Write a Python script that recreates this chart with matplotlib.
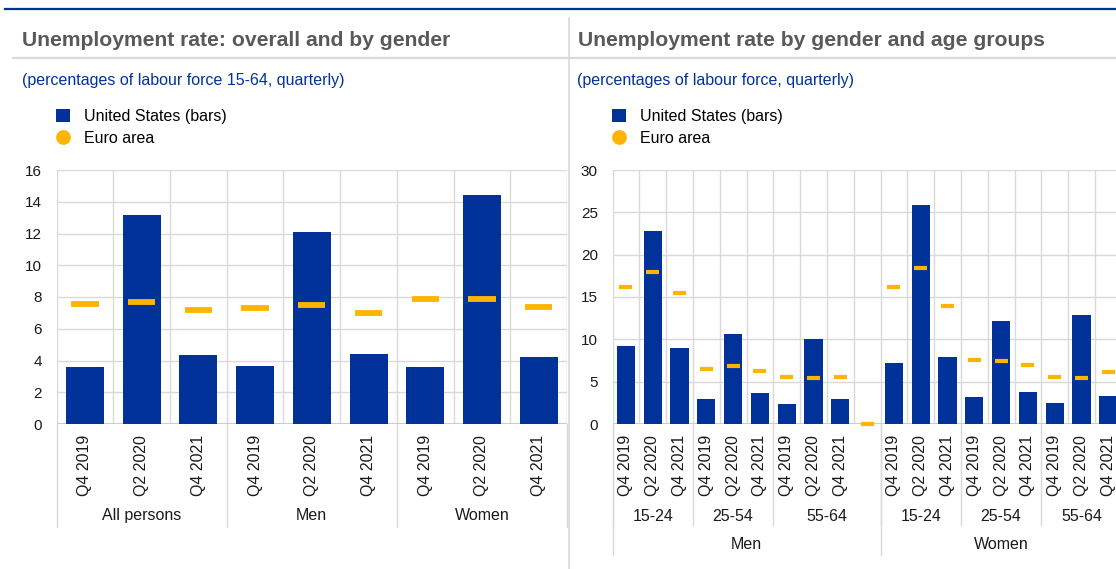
import numpy as np
import matplotlib.pyplot as plt
from matplotlib.patches import Patch
from matplotlib.lines import Line2D

plt.rcParams['font.family'] = ['Liberation Sans', 'DejaVu Sans']

# ---- data -----------------------------------------------------------
quarters = ['Q4 2019', 'Q2 2020', 'Q4 2021']

left_groups = ['All persons', 'Men', 'Women']
us_left = [3.62, 13.16, 4.32, 3.68, 12.08, 4.38, 3.56, 14.42, 4.25]
ea_left = [7.56, 7.66, 7.16, 7.28, 7.47, 6.97, 7.85, 7.85, 7.35]

right_sexes = ['Men', 'Women']
right_ages = ['15-24', '25-54', '55-64']
# one empty slot between men and women
right_labels = quarters * 3 + [''] + quarters * 3
us_right = [9.16, 22.78, 8.92, 3.00, 10.58, 3.71, 2.41, 9.99, 3.00, np.nan,
            7.15, 25.86, 7.86, 3.24, 12.12, 3.83, 2.53, 12.83, 3.36]
ea_right = [16.19, 17.96, 15.48, 6.47, 6.83, 6.24, 5.53, 5.41, 5.53, 0.0,
            16.19, 18.44, 13.94, 7.54, 7.42, 6.95, 5.53, 5.41, 6.12]

BLUE = '#003299'
YELLOW = '#ffb400'
GRID = '#d9d9d9'
TXT = '#1a1a1a'

W, H = 1116, 569
fig = plt.figure(figsize=(W / 100, H / 100), dpi=100)


def fx(px):
    return px / W


def fy(py):
    return 1 - py / H


y0, y1 = fy(424), fy(170)


def setup(ax, n, labels, ymax, step):
    ax.set_xlim(-0.5, n - 0.5)
    ax.set_ylim(0, ymax)
    ax.set_yticks(np.arange(0, ymax + 1, step))
    ax.set_xticks(np.arange(n))
    ax.set_xticklabels(labels, rotation=90, fontsize=11.5, color=TXT)
    ax.set_xticks(np.arange(-0.5, n, 1), minor=True)
    ax.tick_params(axis='both', which='both', length=0)
    ax.tick_params(axis='x', pad=8)
    ax.tick_params(axis='y', pad=10.5, labelsize=11, labelcolor=TXT)
    ax.grid(axis='y', which='major', color=GRID, lw=1)
    ax.grid(axis='x', which='minor', color=GRID, lw=1)
    ax.set_axisbelow(True)
    for s in ax.spines.values():
        s.set_visible(False)
    ax.axhline(0, color='#cccccc', lw=1.5, zorder=1)


def seps(ax, xs, depth, lw=1):
    tr = ax.get_xaxis_transform()
    for x in xs:
        ax.plot([x, x], [0, depth], transform=tr, color=GRID, lw=lw, clip_on=False)


def legend(ax, xpx, ypx):
    h = [Patch(facecolor=BLUE, edgecolor='none'),
         Line2D([], [], ls='none', marker='o', ms=9.6, color=YELLOW)]
    ax.legend(h, ['United States (bars)', 'Euro area'], loc='upper left',
              bbox_to_anchor=(fx(xpx), fy(ypx)), bbox_transform=fig.transFigure,
              frameon=False, fontsize=11.5, handlelength=0.875, handleheight=0.8,
              handletextpad=0.85, labelspacing=0.42, borderpad=0, borderaxespad=0)


# ---- left panel -----------------------------------------------------
axl = fig.add_axes([fx(56.6), y0, fx(567) - fx(56.6), y1 - y0])
nl = len(us_left)
xl = np.arange(nl)
setup(axl, nl, quarters * 3, 16, 2)
axl.bar(xl, us_left, width=0.67, color=BLUE, zorder=2)
axl.hlines(ea_left, xl - 0.24, xl + 0.24, color=YELLOW, lw=4.2, zorder=3)
seps(axl, [-0.5, 2.5, 5.5, 8.5], -0.405)
for i, g in enumerate(left_groups):
    axl.text(3 * i + 1, -0.362, g, transform=axl.get_xaxis_transform(),
             ha='center', va='center', fontsize=11.5, color=TXT)
legend(axl, 56, 109)

# ---- right panel ----------------------------------------------------
axr = fig.add_axes([fx(612.5), y0, fx(1121.7) - fx(612.5), y1 - y0])
nr = len(right_labels)
xr = np.arange(nr)
setup(axr, nr, right_labels, 30, 5)
axr.bar(xr, us_right, width=0.68, color=BLUE, zorder=2)
axr.hlines(ea_right, xr - 0.24, xr + 0.24, color=YELLOW, lw=3, zorder=3, clip_on=False)
seps(axr, [-0.5, 2.5, 5.5, 9.5, 12.5, 15.5, 18.5], -0.398)
seps(axr, [-0.5, 9.5, 18.5], -0.516)
age_centres = [1, 4, 7.5, 11, 14, 17]
for c, a in zip(age_centres, right_ages * 2):
    axr.text(c, -0.365, a, transform=axr.get_xaxis_transform(),
             ha='center', va='center', fontsize=11.5, color=TXT)
for c, s in zip([4.5, 14], right_sexes):
    axr.text(c, -0.476, s, transform=axr.get_xaxis_transform(),
             ha='center', va='center', fontsize=11.5, color=TXT)
legend(axr, 612, 109)

# ---- frame, titles --------------------------------------------------
fig.add_artist(Line2D([fx(5), 1], [fy(9), fy(9)], color=BLUE, lw=1.6))
fig.add_artist(Line2D([fx(13), 1], [fy(58), fy(58)], color=GRID, lw=1.6))
fig.add_artist(Line2D([fx(569), fx(569)], [0, fy(18)], color=GRID, lw=1.2))

fig.text(fx(22), fy(41), 'Unemployment rate: overall and by gender', fontsize=15.2,
         fontweight='bold', color='#595959', va='center')
fig.text(fx(578.5), fy(41), 'Unemployment rate by gender and age groups', fontsize=15.2,
         fontweight='bold', color='#595959', va='center')
fig.text(fx(22), fy(80), '(percentages of labour force 15-64, quarterly)', fontsize=11.5,
         color=BLUE, va='center')
fig.text(fx(577), fy(80), '(percentages of labour force, quarterly)', fontsize=11.5,
         color=BLUE, va='center')

fig.savefig('out.png', dpi=100)
